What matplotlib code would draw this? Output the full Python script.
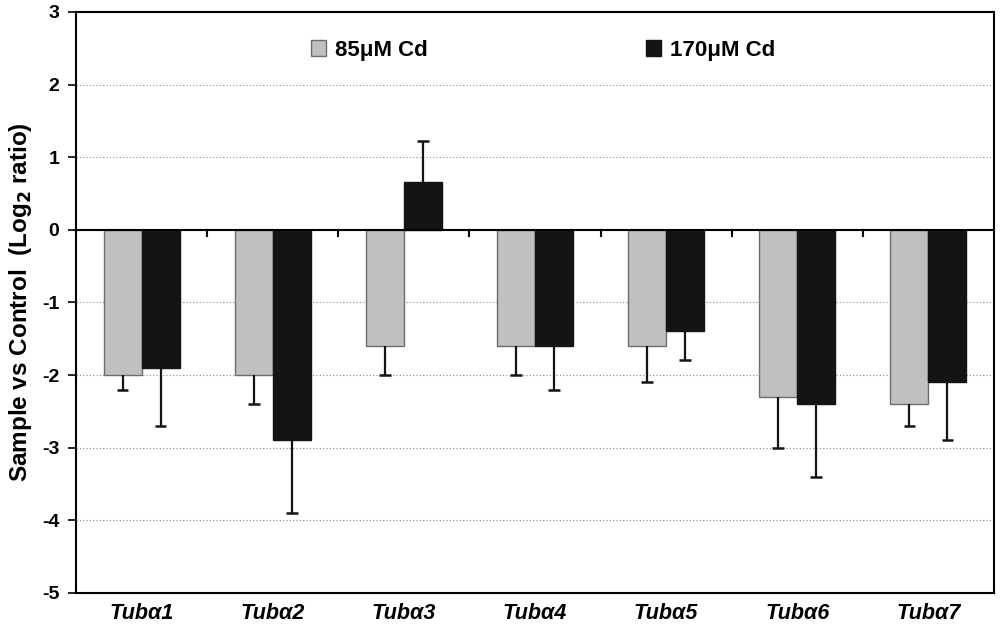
import numpy as np
import matplotlib
matplotlib.use("Agg")
import matplotlib.pyplot as plt
from matplotlib.patches import Patch

plt.rcParams["font.family"] = ["Liberation Sans", "DejaVu Sans"]
plt.rcParams["font.weight"] = "bold"
plt.rcParams["axes.unicode_minus"] = False

GENES = ["Tubα1", "Tubα2", "Tubα3", "Tubα4", "Tubα5", "Tubα6", "Tubα7"]
SERIES = ["85μM Cd", "170μM Cd"]
VAL_85 = [-2.0, -2.0, -1.6, -1.6, -1.6, -2.3, -2.4]
ERR_85 = [0.2, 0.4, 0.4, 0.4, 0.5, 0.7, 0.3]
VAL_170 = [-1.9, -2.9, 0.66, -1.6, -1.4, -2.4, -2.1]
ERR_170 = [0.8, 1.0, 0.56, 0.6, 0.4, 1.0, 0.8]

FILL = {"85μM Cd": "#c0c0c0", "170μM Cd": "#141414"}
EDGE = {"85μM Cd": "#6e6e6e", "170μM Cd": "#141414"}


def err_ends(vals, errs):
    # error bars only point away from zero
    vals = np.asarray(vals)
    return vals + np.sign(vals) * np.asarray(errs)


fig = plt.figure(figsize=(10, 6.3), dpi=100)
ax = fig.add_axes([0.076, 0.059, 0.918, 0.922])

x = np.arange(len(GENES))
width = 0.29
cap = 0.045
for name, vals, errs, off in [(SERIES[0], VAL_85, ERR_85, -width / 2),
                              (SERIES[1], VAL_170, ERR_170, width / 2)]:
    xs = x + off
    ax.bar(xs, vals, width, color=FILL[name], edgecolor=EDGE[name],
           linewidth=1.0, zorder=2)
    ends = err_ends(vals, errs)
    ax.vlines(xs, vals, ends, color="#141414", lw=1.6, zorder=3)
    ax.hlines(ends, xs - cap, xs + cap, color="#141414", lw=1.8, zorder=3)

# zero axis line with category separator ticks
ax.axhline(0, color="black", lw=1.5, zorder=4)
for b in x[:-1] + 0.5:
    ax.plot([b, b], [0, -0.08], color="black", lw=1.5, zorder=4)

ax.set_xlim(-0.5, len(GENES) - 0.5)
ax.set_ylim(-5, 3)
ax.set_yticks(np.arange(-5, 4, 1))
ax.set_xticks(x)
ax.set_xticklabels(GENES, fontsize=15.5, fontstyle="italic", fontweight="bold")
ax.tick_params(axis="x", length=0, pad=7)
ax.tick_params(axis="y", labelsize=14, width=1.2, length=6, direction="out", pad=6)
for lab in ax.get_yticklabels():
    lab.set_fontweight("bold")
ax.yaxis.grid(True, linestyle=(0, (1, 2)), color="#888888", lw=0.8, zorder=0)
ax.set_axisbelow(True)
for s in ax.spines.values():
    s.set_linewidth(1.5)
    s.set_color("black")

ax.set_ylabel(r"Sample vs Control  (Log$_\mathbf{2}$ ratio)", fontsize=17.5,
              fontweight="bold", labelpad=6)

handles = [Patch(facecolor=FILL[s], edgecolor=EDGE[s], label=s) for s in SERIES]
ax.legend(handles=handles, loc="center", bbox_to_anchor=(0.509, 0.934), ncol=2,
          frameon=False, handlelength=0.7, handleheight=0.7,
          handletextpad=0.4, columnspacing=9.8,
          prop={"size": 16, "weight": "bold"})

fig.savefig("out.png", dpi=100)
